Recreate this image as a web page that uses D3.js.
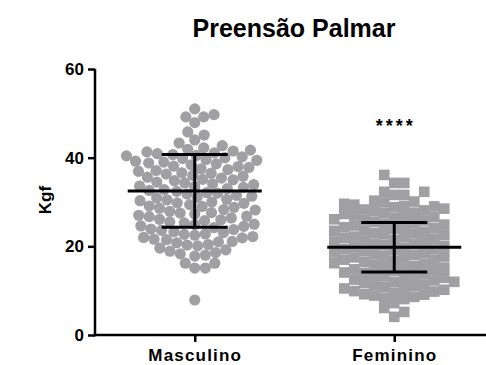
<!DOCTYPE html>
<html><head><meta charset="utf-8">
<script src="https://cdn.jsdelivr.net/npm/d3@7"></script>
<style>body{margin:0;background:#fff}svg{display:block}</style>
</head><body><svg id="c" width="486" height="365"></svg>
<script>
const categories = ["Masculino", "Feminino"];
const masculino = [
  7.9, 15.1, 15.1, 16.2, 16.2, 17.8, 18.0, 18.3, 18.6, 18.9, 19.2, 19.6,
  20.1, 20.3, 20.4, 20.8, 21.0, 21.1, 21.5, 21.6, 21.9, 22.0,
  22.2, 22.5, 22.7, 22.8, 23.1, 23.3, 23.6, 23.8, 23.9, 24.2,
  24.5, 24.6, 24.9, 25.0, 25.3, 25.5, 25.8, 26.0, 26.1, 26.4,
  26.7, 26.8, 27.0, 27.3, 27.5, 27.6, 27.9, 28.2, 28.3, 28.6,
  28.8, 29.0, 29.1, 29.4, 29.7, 29.8, 30.0, 30.3, 30.5, 30.6,
  30.9, 31.1, 31.3, 31.5, 31.8, 32.0, 32.1, 32.4, 32.6, 32.8,
  33.0, 33.3, 33.5, 33.6, 33.9, 34.1, 34.3, 34.5, 34.8, 35.0,
  35.1, 35.4, 35.6, 35.8, 36.0, 36.3, 36.5, 36.6, 36.9, 37.1,
  37.3, 37.5, 37.8, 38.0, 38.1, 38.4, 38.6, 38.8, 39.0, 39.2,
  39.4, 39.6, 39.8, 40.0, 40.2, 40.4, 40.5, 40.7, 40.9, 41.1,
  41.3, 41.5, 41.7, 41.9,
  42.2, 42.7, 43.3, 44.0, 45.1, 45.8, 47.9, 49.2, 49.2, 49.7, 51.0
];
const feminino = [
  4.1, 5.2, 6.1, 7.2,
  8.1, 8.4, 8.6, 8.9, 9.1, 9.2, 9.5, 9.8, 9.9, 10.2,
  10.4, 10.5, 10.8, 11.0, 11.2, 11.4, 11.7, 11.9, 12.0, 12.3,
  12.5, 12.7, 12.9, 13.2, 13.3, 13.6, 13.8, 14.0, 14.1, 14.4,
  14.6, 14.8, 15.0, 15.2, 15.5, 15.6, 15.9, 16.1, 16.2, 16.5,
  16.7, 16.9, 17.0, 17.3, 17.5, 17.7, 17.9, 18.1, 18.3, 18.5,
  18.6, 18.9, 19.1, 19.3, 19.4, 19.7, 19.9, 20.0, 20.3, 20.5,
  20.6, 20.9, 21.1, 21.3, 21.4, 21.7, 21.9, 22.1, 22.2, 22.5,
  22.7, 22.9, 23.0, 23.3, 23.5, 23.6, 23.9, 24.1, 24.3, 24.4,
  24.7, 24.9, 25.1, 25.3, 25.5, 25.8, 26.0, 26.1, 26.4, 26.6,
  26.8, 27.0, 27.3, 27.5, 27.6, 27.9, 28.1, 28.3, 28.5, 28.8,
  29.0, 29.1, 29.4, 29.6, 29.9, 30.1, 30.3,
  31.6, 31.6, 32.3, 32.3, 34.3, 34.3, 36.1
];
const means = [32.5, 19.8];
const sds = [8.2, 5.6];
const yTicks = [0, 20, 40, 60];
const significance = ["", "****"];
const title = "Preensão Palmar";
const yLabel = "Kgf";

const svg = d3.select("#c");
const x = d3.scalePoint().domain(categories).range([95, 494]).padding(0.5);
const y = d3.scaleLinear().domain([0, 60]).range([335, 69]);
const grey = "#a0a0a2";
const font = "Liberation Sans, Arial, sans-serif";

function swarmCircle(values, d) {
  const pts = values.map(v => ({v, y: y(v)})).sort((a, b) => a.v - b.v);
  const placed = [];
  for (const p of pts) {
    const c = [0];
    for (const q of placed) {
      const dy = Math.abs(q.y - p.y);
      if (dy < d) { const dx = Math.sqrt(d * d - dy * dy); c.push(q.x + dx, q.x - dx); }
    }
    c.sort((a, b) => Math.abs(a) - Math.abs(b));
    for (const cx of c) {
      if (placed.every(q => (q.x - cx) ** 2 + (q.y - p.y) ** 2 >= d * d - 1e-6)) { p.x = cx; break; }
    }
    placed.push(p);
  }
  return placed;
}
function swarmSquare(values, s) {
  const pts = values.map(v => ({v, y: y(v)})).sort((a, b) => a.v - b.v);
  const placed = [];
  for (const p of pts) {
    const c = [0];
    for (const q of placed) {
      if (Math.abs(q.y - p.y) < s) c.push(q.x + s, q.x - s);
    }
    c.sort((a, b) => Math.abs(a) - Math.abs(b));
    for (const cx of c) {
      if (placed.every(q => Math.abs(q.x - cx) >= s - 1e-6 || Math.abs(q.y - p.y) >= s - 1e-6)) { p.x = cx; break; }
    }
    placed.push(p);
  }
  return placed;
}

// points
const mPts = swarmCircle(masculino, 10.6);
svg.append("g").selectAll("circle").data(mPts).join("circle")
  .attr("cx", d => x("Masculino") + d.x).attr("cy", d => d.y).attr("r", 5.6).attr("fill", grey);
const fPts = swarmSquare(feminino, 10.0);
svg.append("g").selectAll("rect").data(fPts).join("rect")
  .attr("x", d => x("Feminino") + d.x - 5.3).attr("y", d => d.y - 5.3)
  .attr("width", 10.6).attr("height", 10.6).attr("fill", grey);

// mean & SD
const eb = svg.append("g").attr("stroke", "#000").attr("stroke-width", 3);
categories.forEach((c, i) => {
  const cx = x(c);
  eb.append("line").attr("x1", cx - 67).attr("x2", cx + 67).attr("y1", y(means[i])).attr("y2", y(means[i]));
  eb.append("line").attr("x1", cx).attr("x2", cx).attr("y1", y(means[i] + sds[i])).attr("y2", y(means[i] - sds[i]));
  eb.append("line").attr("x1", cx - 33).attr("x2", cx + 33).attr("y1", y(means[i] + sds[i])).attr("y2", y(means[i] + sds[i]));
  eb.append("line").attr("x1", cx - 33).attr("x2", cx + 33).attr("y1", y(means[i] - sds[i])).attr("y2", y(means[i] - sds[i]));
});

// axes
const yAxis = svg.append("g").attr("transform", "translate(95,0)")
  .call(d3.axisLeft(y).tickValues(yTicks).tickSize(7).tickPadding(4).tickSizeOuter(0));
const xAxis = svg.append("g").attr("transform", "translate(0,335)")
  .call(d3.axisBottom(x).tickSize(7).tickPadding(6).tickSizeOuter(0));
[yAxis, xAxis].forEach(g => {
  g.selectAll("path,line").attr("stroke", "#000").attr("stroke-width", 2.5);
  g.selectAll("text").attr("fill", "#000").attr("font-family", font).attr("font-weight", "bold");
});
yAxis.selectAll("text").attr("font-size", 17);
xAxis.selectAll("text").attr("font-size", 17).attr("letter-spacing", "1.2px").attr("dy", "0.75em");
yAxis.select(".domain").attr("d", "M0,69V336.2");
xAxis.select(".domain").attr("d", "M93.8,0H494");

// significance
categories.forEach((c, i) => {
  if (significance[i]) svg.append("text").attr("x", x(c) + 1.5).attr("y", 132).attr("text-anchor", "middle")
    .attr("font-family", font).attr("font-weight", "bold").attr("font-size", 18).attr("letter-spacing", "3px")
    .text(significance[i]);
});

// title & y label
svg.append("text").attr("x", 294).attr("y", 37).attr("text-anchor", "middle")
  .attr("font-family", font).attr("font-weight", "bold").attr("font-size", 25)
  .text(title);
svg.append("text").attr("transform", "translate(51,200) rotate(-90)").attr("text-anchor", "middle")
  .attr("font-family", font).attr("font-weight", "bold").attr("font-size", 17)
  .text(yLabel);
</script></body></html>
